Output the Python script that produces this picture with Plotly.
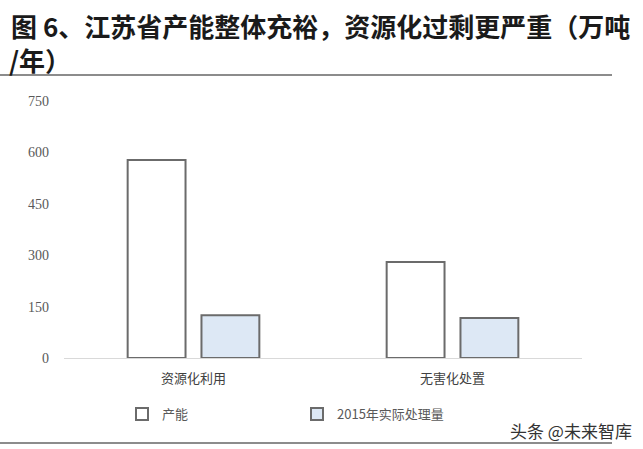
import plotly.graph_objects as go

categories = ["资源化利用", "无害化处置"]
capacity = [578, 280]
processed_2015 = [125, 117]
series_names = ["产能", "2015年实际处理量"]
y_ticks = [0, 150, 300, 450, 600, 750]

W, H = 643, 449
L, R, T, B = 64, 61, 101, 91
pw, ph = W - L - R, H - T - B

def px_x(x):
    return (x - L) / pw

def px_y(y):
    return (H - B - y) / ph

fig = go.Figure()
fig.add_trace(go.Bar(x=categories, y=capacity, name=series_names[0],
                     marker=dict(color="white", line=dict(color="#6b6b6b", width=2))))
fig.add_trace(go.Bar(x=categories, y=processed_2015, name=series_names[1],
                     marker=dict(color="#dde8f5", line=dict(color="#6b6b6b", width=2))))

fig.update_layout(
    width=W, height=H,
    margin=dict(l=L, r=R, t=T, b=B),
    plot_bgcolor="white", paper_bgcolor="white",
    barmode="group", bargap=0.43, bargroupgap=0.216,
    font=dict(family="Liberation Serif, Noto Sans CJK SC", color="#595959", size=13),
    showlegend=True,
    legend=dict(orientation="h", x=px_x(122), y=px_y(414), xanchor="left", yanchor="middle",
                entrywidth=130, entrywidthmode="pixels", itemwidth=30,
                font=dict(size=13, color="#595959", family="Noto Sans CJK SC")),
    xaxis=dict(showline=True, linecolor="#d9d9d9", linewidth=1, ticks="", showgrid=False,
               ticklabelstandoff=8,
               tickfont=dict(size=13, color="#404040", family="Noto Sans CJK SC")),
    yaxis=dict(range=[0, 750], tickvals=y_ticks, showgrid=False, zeroline=False,
               showline=False, ticks="", ticklabelstandoff=14,
               tickfont=dict(size=14, color="#595959", family="Liberation Serif")),
)

fig.add_annotation(text="<b>图 6、江苏省产能整体充裕，资源化过剩更严重（万吨</b>",
                   xref="paper", yref="paper", x=px_x(9), y=px_y(26),
                   xanchor="left", yanchor="middle", showarrow=False,
                   font=dict(size=26, color="#1a1a1a", family="Noto Sans CJK SC"))
fig.add_annotation(text="<b>/年）</b>",
                   xref="paper", yref="paper", x=px_x(7), y=px_y(60),
                   xanchor="left", yanchor="middle", showarrow=False,
                   font=dict(size=26, color="#1a1a1a", family="Noto Sans CJK SC"))
fig.add_annotation(text="头条 @未来智库",
                   xref="paper", yref="paper", x=px_x(571), y=px_y(430),
                   xanchor="center", yanchor="middle", showarrow=False,
                   font=dict(size=17, color="#333333", family="Noto Sans CJK SC"))

fig.add_shape(type="line", xref="paper", yref="paper",
              x0=px_x(0), x1=px_x(612), y0=px_y(75), y1=px_y(75),
              line=dict(color="#8c8c8c", width=2))
fig.add_shape(type="line", xref="paper", yref="paper",
              x0=px_x(0), x1=px_x(612), y0=px_y(443), y1=px_y(443),
              line=dict(color="#8c8c8c", width=2))

fig.write_html("out.html", config={"displayModeBar": False},
               post_script="document.body.style.margin='0';")
